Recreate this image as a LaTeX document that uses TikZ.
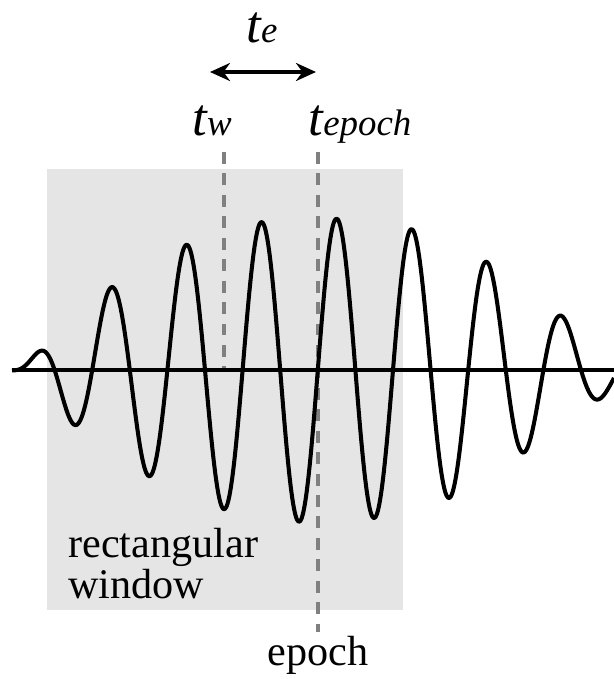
\documentclass[tikz,border=0pt]{standalone}
\usepackage{fontspec}
\setmainfont{Liberation Serif}
\usetikzlibrary{arrows.meta}

% big italic t with a smaller italic suffix on the same baseline
\newcommand{\timelabel}[1]{{\itshape\fontsize{30}{30}\selectfont t}{\itshape\fontsize{21}{21}\selectfont #1}}

\begin{document}
\begin{tikzpicture}[
    x=0.2mm, y=-0.2mm,
    declare function={
        qq(\t)=((\t-310)/100)*((\t-310)/100);
        envl(\t)=(\t<310) ? 152*exp(-(0.1097*qq(\t)+0.01086*qq(\t)*qq(\t)+0.86*(qq(\t)/7.5625)^8))
                          : 152*exp(-(0.0556*qq(\t)+0.01695*qq(\t)*qq(\t)));
    },
    window/.style={fill=gray!20, draw=none},
    marker/.style={draw=gray, line width=2.3pt, dash pattern=on 6.8pt off 5.4pt},
    wave/.style={draw, line width=2.3pt, line join=round},
    line/.style={draw, line width=2.3pt, {Stealth[length=4mm, width=3.6mm]}-{Stealth[length=4mm, width=3.6mm]}},
    caption/.style={inner sep=0pt, font=\fontsize{24}{20}\selectfont},
    tlabel/.style={inner sep=0pt, anchor=base}
]
    \useasboundingbox (0,0) rectangle (614,679);

    % Window behind the signal
    \path [window] (47,169) rectangle (403,610);
    \node [caption, anchor=base west, align=left] (win) at (68,598) {rectangular\\window};

    % Time markers
    \coordinate (tw_top) at (224,152);
    \coordinate (tw_bot) at (224,372);
    \coordinate (ep_top) at (318,152);
    \coordinate (ep_bot) at (318,632);
    \path [marker] (tw_top) -- (tw_bot);
    \path [marker] (ep_top) -- (ep_bot);

    % Axis and signal
    \coordinate (ax_l) at (12,370);
    \coordinate (ax_r) at (614,370);
    \path [wave] (ax_l) -- (ax_r);
    \path [wave] plot [domain=12:614, samples=400, smooth]
        (\x, {370 - envl(\x)*cos(360*((\x-35.8)/75.2))});

    % Labels
    \node [tlabel] (te) at (262,42) {\timelabel{e}};
    \node [tlabel] (tw) at (212,135) {\timelabel{w}};
    \node [tlabel] (tep) at (360,135) {\timelabel{epoch}};
    \node [caption, anchor=base] (ep) at (318,665) {epoch};

    % Shift between window start and epoch
    \coordinate (arr_l) at (210,72);
    \coordinate (arr_r) at (316,72);
    \path [line] (arr_l) -- (arr_r);
\end{tikzpicture}
\end{document}
